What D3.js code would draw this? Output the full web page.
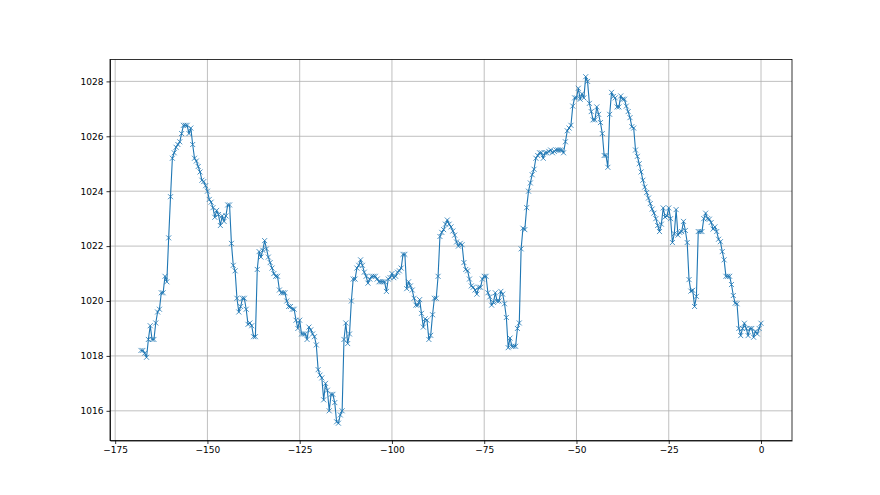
<!DOCTYPE html>
<html>
<head>
<meta charset="UTF-8">
<script src="https://cdn.jsdelivr.net/npm/d3@7"></script>
<style>
  body { margin: 0; background: #fff; }
  svg { display: block; }
  .tick text { font-family: "DejaVu Sans", sans-serif; font-size: 9px; fill: #000; }
  .grid line { stroke: #b0b0b0; stroke-width: 0.8; }
  .axis path, .axis line { stroke: #000; stroke-width: 0.8; }
</style>
</head>
<body>
<script>

// hours before now, sampled every half hour
const startHour = -168;
const stepHour = 0.5;

// pressure readings (hPa), one per half hour from -168 to 0
const pressure = [
  1018.2, 1018.2, 1018.1, 1017.95, 1018.6, 1019.1, 1018.6, 1018.6, 1019.2, 1019.6,
  1019.7, 1020.3, 1020.3, 1020.9, 1020.7, 1022.3, 1023.8, 1025.2, 1025.4, 1025.6,
  1025.7, 1025.8, 1026.1, 1026.4, 1026.4, 1026.4, 1026.1, 1026.3, 1025.7, 1025.2,
  1025.1, 1024.9, 1024.7, 1024.4, 1024.35, 1024.2, 1024.0, 1023.7, 1023.6, 1023.4,
  1023.05, 1023.3, 1023.15, 1022.75, 1023.1, 1022.9, 1023.1, 1023.5, 1023.5, 1022.1,
  1021.3, 1021.1, 1020.1, 1019.6, 1019.8, 1020.1, 1020.1, 1019.7, 1019.15, 1019.2,
  1019.1, 1018.7, 1018.7, 1021.15, 1021.8, 1021.6, 1021.85, 1022.2, 1021.9, 1021.6,
  1021.4, 1021.2, 1021.0, 1020.9, 1020.9, 1020.4, 1020.3, 1020.3, 1020.3, 1020.0,
  1019.8, 1019.8, 1019.7, 1019.7, 1019.3, 1019.0, 1019.3, 1018.8, 1018.8, 1018.8,
  1018.6, 1019.05, 1018.95, 1018.8, 1018.7, 1018.4, 1017.5, 1017.3, 1017.2, 1016.4,
  1017.0, 1016.75, 1016.0, 1016.6, 1016.6, 1016.3, 1015.6, 1015.55, 1015.85, 1016.0,
  1018.6, 1019.2, 1018.45, 1018.8, 1020.0, 1020.8, 1020.8, 1021.2, 1021.3, 1021.5,
  1021.3, 1021.05, 1020.9, 1020.65, 1020.8, 1020.9, 1020.9, 1020.9, 1020.8, 1020.7,
  1020.7, 1020.7, 1020.7, 1020.35, 1020.8, 1020.85, 1021.0, 1020.85, 1020.9, 1021.05,
  1021.1, 1021.2, 1021.7, 1021.7, 1020.45, 1020.7, 1020.55, 1020.4, 1020.1, 1019.85,
  1019.85, 1020.05, 1019.55, 1019.05, 1019.35, 1019.3, 1018.6, 1018.75, 1019.5, 1020.1,
  1020.1, 1020.9, 1022.35, 1022.5, 1022.6, 1022.8, 1022.95, 1022.8, 1022.7, 1022.55,
  1022.4, 1022.15, 1022.0, 1022.1, 1022.05, 1021.4, 1021.15, 1021.1, 1020.8, 1020.55,
  1020.5, 1020.4, 1020.25, 1020.5, 1020.5, 1020.8, 1020.9, 1020.9, 1020.3, 1020.15,
  1019.85, 1019.95, 1020.3, 1020.0, 1020.0, 1020.35, 1020.25, 1019.9, 1019.4, 1018.3,
  1018.65, 1018.35, 1018.35, 1018.35, 1019.0, 1019.2, 1021.9, 1022.65, 1022.6, 1023.4,
  1024.0, 1024.3, 1024.6, 1024.8, 1025.2, 1025.3, 1025.4, 1025.4, 1025.2, 1025.4,
  1025.4, 1025.45, 1025.5, 1025.4, 1025.45, 1025.5, 1025.5, 1025.5, 1025.5, 1025.4,
  1025.8, 1026.2, 1026.3, 1026.4, 1027.1, 1027.4, 1027.4, 1027.75, 1027.35, 1027.55,
  1027.4, 1028.17, 1028.0, 1027.2, 1026.9, 1026.6, 1026.6, 1027.07, 1026.8, 1026.5,
  1026.1, 1025.3, 1025.3, 1024.87, 1026.8, 1027.6, 1027.45, 1027.4, 1027.07, 1027.07,
  1027.47, 1027.35, 1027.35, 1027.1, 1026.9, 1026.68, 1026.35, 1026.3, 1025.5, 1025.27,
  1025.0, 1024.7, 1024.4, 1024.15, 1023.95, 1023.75, 1023.55, 1023.35, 1023.2, 1023.0,
  1022.75, 1022.53, 1022.8, 1023.39, 1023.06, 1023.1, 1023.39, 1023.0, 1022.13, 1022.45,
  1023.33, 1022.4, 1022.5, 1022.53, 1022.9, 1022.57, 1022.13, 1020.78, 1020.36, 1020.39,
  1019.8, 1020.17, 1022.53, 1022.53, 1022.53, 1023.0, 1023.2, 1023.0, 1022.98, 1022.86,
  1022.62, 1022.7, 1022.53, 1022.25, 1022.16, 1021.8, 1021.5, 1020.9, 1020.9, 1020.9,
  1020.6, 1020.2, 1019.92, 1019.9, 1019.0, 1018.74, 1019.0, 1019.19, 1019.0, 1018.74,
  1019.0, 1019.0, 1018.68, 1018.9, 1018.8, 1019.0, 1019.19
];

const xTicks = [-175, -150, -125, -100, -75, -50, -25, 0];
const yTicks = [1016, 1018, 1020, 1022, 1024, 1026, 1028];

const data = pressure.map((p, i) => ({ hour: startHour + i * stepHour, p: p }));

// matplotlib default subplot box
const W = 880, H = 495;
const margin = { top: 59.4, right: 88, bottom: 54.5, left: 110 };
const width = W - margin.left - margin.right;
const height = H - margin.top - margin.bottom;

// 5% padding like matplotlib autoscale
const xExt = d3.extent(data, d => d.hour);
const yExt = d3.extent(data, d => d.p);
const xPad = (xExt[1] - xExt[0]) * 0.05;
const yPad = (yExt[1] - yExt[0]) * 0.05;

const x = d3.scaleLinear().domain([xExt[0] - xPad, xExt[1] + xPad]).range([0, width]);
const y = d3.scaleLinear().domain([yExt[0] - yPad, yExt[1] + yPad]).range([height, 0]);

const svg = d3.select("body").append("svg")
    .attr("width", W)
    .attr("height", H);

const g = svg.append("g")
    .attr("transform", "translate(" + margin.left + "," + margin.top + ")");

// grid lines
g.append("g")
    .attr("class", "grid")
    .selectAll("line.v")
    .data(xTicks)
  .enter().append("line")
    .attr("x1", d => x(d)).attr("x2", d => x(d))
    .attr("y1", 0).attr("y2", height);

g.append("g")
    .attr("class", "grid")
    .selectAll("line.h")
    .data(yTicks)
  .enter().append("line")
    .attr("x1", 0).attr("x2", width)
    .attr("y1", d => y(d)).attr("y2", d => y(d));

// the series
const line = d3.line()
    .x(d => x(d.hour))
    .y(d => y(d.p));

g.append("path")
    .datum(data)
    .attr("d", line)
    .attr("fill", "none")
    .attr("stroke", "#1f77b4")
    .attr("stroke-width", 1.1)
    .attr("stroke-linejoin", "round");

// 'x' markers
const m = 2.5;
g.append("g")
    .selectAll("path")
    .data(data)
  .enter().append("path")
    .attr("transform", d => "translate(" + x(d.hour) + "," + y(d.p) + ")")
    .attr("d", "M" + (-m) + "," + (-m) + "L" + m + "," + m + "M" + (-m) + "," + m + "L" + m + "," + (-m))
    .attr("stroke", "#1f77b4")
    .attr("stroke-width", 0.8)
    .attr("fill", "none");

// axes
g.append("g")
    .attr("class", "axis")
    .attr("transform", "translate(0," + height + ")")
    .call(d3.axisBottom(x).tickValues(xTicks).tickSizeInner(3.5).tickSizeOuter(0).tickPadding(3)
      .tickFormat(d => d < 0 ? "\u2212" + Math.abs(d) : String(d)));

g.append("g")
    .attr("class", "axis")
    .call(d3.axisLeft(y).tickValues(yTicks).tickSizeInner(3.5).tickSizeOuter(0).tickPadding(3)
      .tickFormat(d3.format("d")));

// frame
g.append("rect")
    .attr("width", width)
    .attr("height", height)
    .attr("fill", "none")
    .attr("stroke", "#000")
    .attr("stroke-width", 0.8);

</script>
</body>
</html>
